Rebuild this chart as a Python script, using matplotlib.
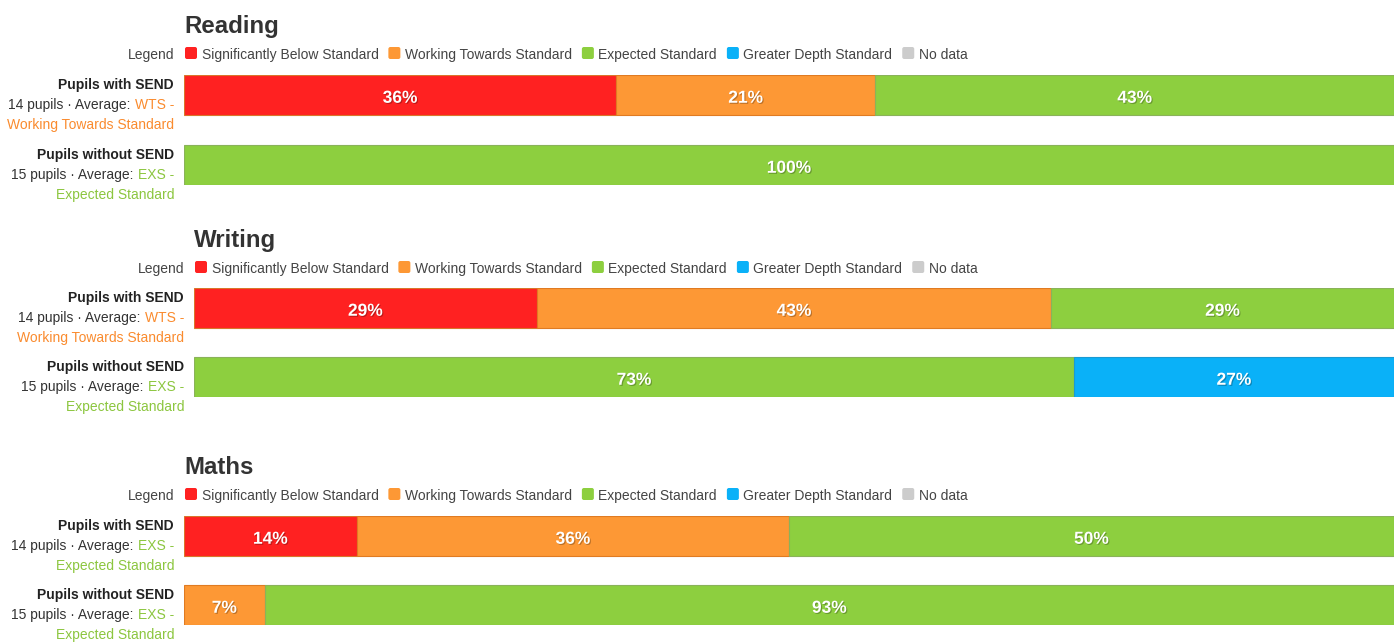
import matplotlib
matplotlib.use("Agg")
import matplotlib.pyplot as plt
import matplotlib.patheffects as pe
from matplotlib.patches import FancyBboxPatch
from matplotlib import transforms

plt.rcParams['font.family'] = ['Liberation Sans', 'DejaVu Sans']

# ---------------- data ----------------
subjects = ["Reading", "Writing", "Maths"]
categories = ["Significantly Below Standard", "Working Towards Standard",
              "Expected Standard", "Greater Depth Standard", "No data"]
cat_colors = ["#FF2121", "#FD9835", "#8DCF3F", "#0AB1F8", "#CCCCCC"]
cat_edges = ["#D9762B", "#E07B22", "#8AB25A", "#1A9AD2", "#B5B5B5"]
groups = ["Pupils with SEND", "Pupils without SEND"]
group_sizes = [14, 15]
# pupil counts per category (SBS, WTS, EXS, GDS, No data)
reading_counts = [[5, 3, 6, 0, 0], [0, 0, 15, 0, 0]]
writing_counts = [[4, 6, 4, 0, 0], [0, 0, 11, 4, 0]]
maths_counts = [[2, 5, 7, 0, 0], [0, 1, 14, 0, 0]]
counts = [reading_counts, writing_counts, maths_counts]
avg_codes = [["WTS", "EXS"], ["WTS", "EXS"], ["EXS", "EXS"]]
avg_names = {"WTS": "Working Towards Standard", "EXS": "Expected Standard"}
avg_colors = {"WTS": "#FA8B2E", "EXS": "#8CC63F"}

# ---------------- layout (pixels) ----------------
W, H = 1400, 642
panel_left = [184, 194, 184]
panel_right = 1394
title_base = [33, 247, 474]
legend_base = [59, 273, 500]
bar_tops = [[75, 145], [288, 357], [516, 585]]
bar_h = 39.5

fig = plt.figure(figsize=(W / 100, H / 100), dpi=100)
fig.patch.set_facecolor("white")
bg = fig.add_axes([0, 0, 1, 1])
bg.set_xlim(0, W)
bg.set_ylim(H, 0)
bg.axis("off")
renderer = fig.canvas.get_renderer()


def text_px(x, y, s, **kw):
    t = bg.text(x, y, s, **kw)
    bb = t.get_window_extent(renderer)
    return t, bb.x0, bb.x1


FS = 10
for p, subj in enumerate(subjects):
    L = panel_left[p]
    # title
    bg.text(L, title_base[p], subj, fontsize=17.3, fontweight="bold",
            color="#333333", ha="left", va="baseline")
    # legend
    lb = legend_base[p]
    bg.text(L - 10, lb, "Legend", fontsize=FS, color="#444444",
            ha="right", va="baseline")
    x = L + 1
    for c, col in zip(categories, cat_colors):
        sq = FancyBboxPatch((x, lb - 12), 12, 12,
                            boxstyle="round,pad=0,rounding_size=2",
                            fc=col, ec="none", transform=bg.transData)
        bg.add_patch(sq)
        _, _, x1 = text_px(x + 16.5, lb, c, fontsize=FS, color="#444444",
                           ha="left", va="baseline")
        x = x1 + 10

    # bars
    tops = bar_tops[p]
    top = tops[0]
    bottom = tops[1] + bar_h
    pitch = tops[1] - tops[0]
    hdat = bar_h / pitch
    ax = fig.add_axes([L / W, 1 - bottom / H, (panel_right - L) / W,
                       (bottom - top) / H])
    ax.set_xlim(0, 1)
    ax.set_ylim(1 + hdat / 2, -hdat / 2)
    ax.axis("off")
    toff = transforms.offset_copy(ax.transData, fig=fig, y=-8, units="dots")
    for g in range(2):
        n = group_sizes[g]
        left = 0.0
        for k, cnt in enumerate(counts[p][g]):
            if cnt == 0:
                continue
            w = cnt / n
            ax.barh(g, w, left=left, height=hdat, color=cat_colors[k],
                    edgecolor=cat_edges[k], linewidth=0.8)
            ax.text(left + w / 2, g, f"{round(100 * cnt / n)}%",
                    transform=toff, ha="center", va="baseline",
                    fontsize=12.5, fontweight="bold", color="white",
                    path_effects=[pe.withSimplePatchShadow(
                        offset=(0.8, -0.8), shadow_rgbFace="black", alpha=0.25)])
            left += w

        # left labels
        xr = L - 10
        t0 = tops[g]
        bg.text(xr, t0 + 14, groups[g], fontsize=FS, fontweight="bold",
                color="#222222", ha="right", va="baseline")
        code = avg_codes[p][g]
        _, cx0, _ = text_px(xr, t0 + 34, f"{code} -", fontsize=FS,
                            color=avg_colors[code], ha="right", va="baseline")
        bg.text(cx0 - 4, t0 + 34, f"{n} pupils \u00b7 Average:", fontsize=FS,
                color="#333333", ha="right", va="baseline")
        bg.text(xr, t0 + 54, avg_names[code], fontsize=FS,
                color=avg_colors[code], ha="right", va="baseline")

fig.savefig("out.png", dpi=100, facecolor="white")
